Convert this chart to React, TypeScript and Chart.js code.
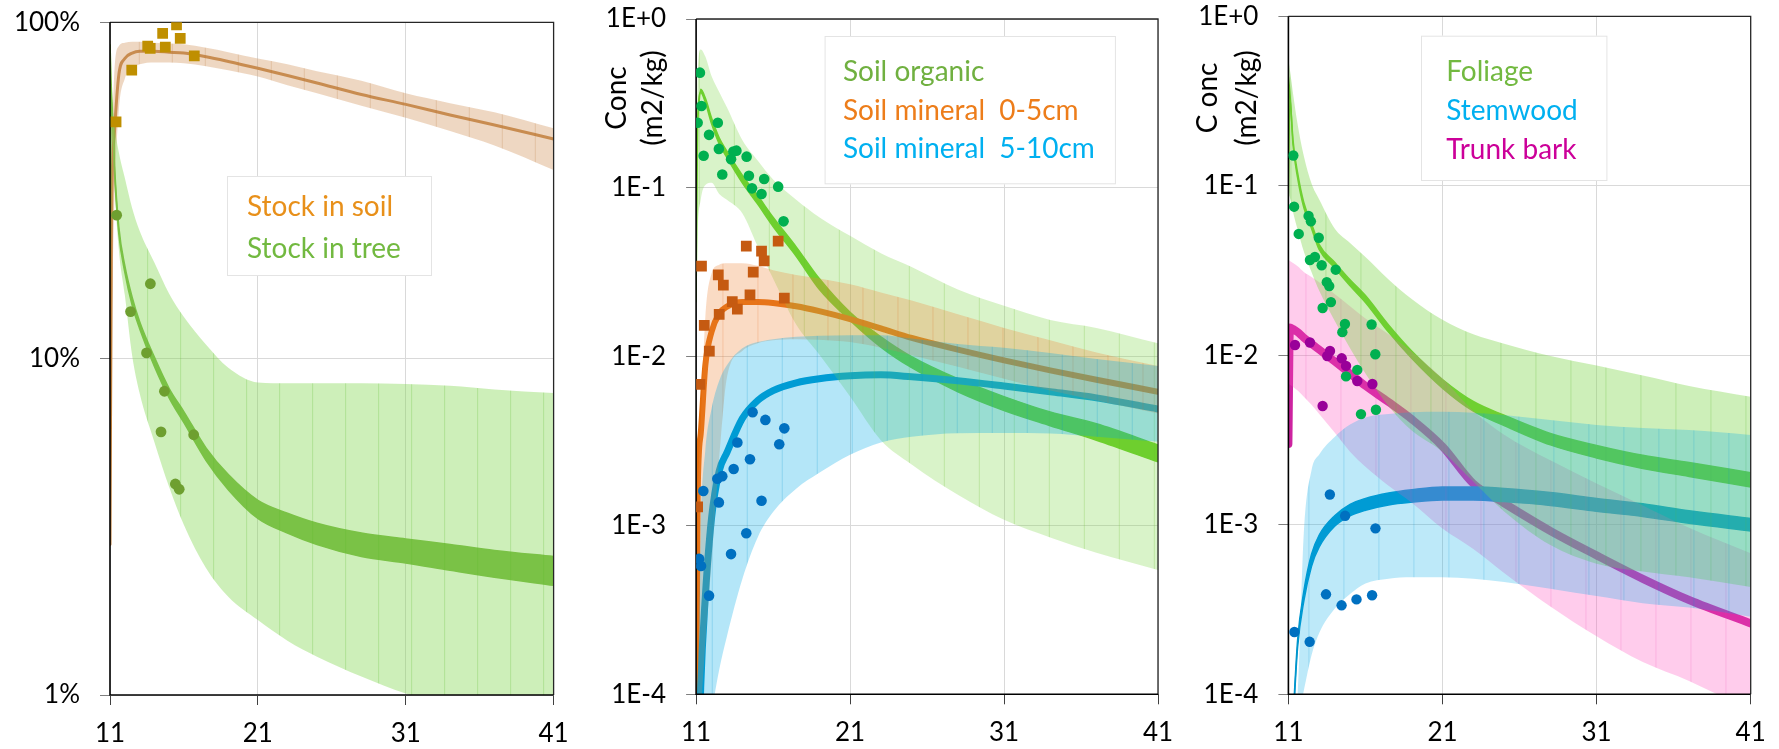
import React, { useEffect, useRef } from 'react';
import { Chart, registerables } from 'chart.js';

Chart.register(...registerables);

const FONT_FAMILY = 'Lato, "Noto Sans", "DejaVu Sans", sans-serif';

// ================= shared =================
const X_GRID = [11, 11.1, 11.3, 11.6, 12, 12.5, 13, 14, 15, 16, 17.5, 19, 21, 23, 25, 28, 31, 34, 37, 41];
const X_TICKS = [11, 21, 31, 41];

// ================= panel 1 (percent of stock) =================
const P1_Y_TICKS = [1, 10, 100];
const P1_Y_LABELS = ['1%', '10%', '100%'];

const soilStockMid = [2.8, 25, 47, 70, 78, 81, 82, 82, 81.5, 81, 79, 76.5, 73, 69.5, 66, 61, 57, 53, 49.5, 45];
const soilStockLo = [null, 12, 30, 55, 68, 73, 75, 76, 76, 75.5, 74, 72, 69, 65, 61.5, 56.5, 52, 47.5, 43, 36.4];
const soilStockHi = [null, 40, 72, 85, 87, 87.5, 87.5, 87, 86.5, 86, 84, 81.5, 78, 75, 71.5, 67, 61.5, 57.5, 54, 48.4];

const treeStockLo = [17.5, 59, 36.3, 23.5, 18.1, 14.4, 12.3, 9.5, 7.65, 6.45, 4.98, 4.08, 3.35, 3.03, 2.8, 2.58, 2.47, 2.35, 2.24, 2.12];
const treeStockHi = [86, 61, 37.7, 24.5, 18.9, 15.2, 12.9, 10.1, 8.15, 6.95, 5.42, 4.52, 3.79, 3.47, 3.24, 3.03, 2.91, 2.8, 2.69, 2.58];
const treeBandLo = [null, 55, 33, 21, 15.5, 10.2, 7.9, 5.65, 4.15, 3.2, 2.38, 1.96, 1.67, 1.45, 1.3, 1.135, 1.01, 0.93, 0.88, 0.85];
const treeBandHi = [null, 66, 50, 41, 34.5, 28, 24, 19.3, 15.6, 13.3, 11, 9.4, 8.5, 8.45, 8.45, 8.45, 8.4, 8.3, 8.1, 7.9];

const soilObsX = [11.41, 12.47, 13.55, 13.72, 14.56, 14.74, 15.5, 15.75, 16.7];
const soilObsY = [50.6, 72.1, 85, 83.7, 92.7, 84.3, 98.2, 89.6, 79.4];
const treeObsX = [11.45, 13.73, 12.39, 13.47, 14.68, 14.45, 16.66, 15.42, 15.68];
const treeObsY = [26.7, 16.7, 13.8, 10.4, 8.0, 6.06, 5.94, 4.24, 4.09];

// ================= panel 2 (soil, m2/kg) =================
const CONC_TICKS = [1e-4, 1e-3, 1e-2, 1e-1, 1];
const CONC_LABELS = ['1E-4', '1E-3', '1E-2', '1E-1', '1E+0'];

const organicLo = [0.021, 0.245, 0.367, 0.32, 0.24, 0.182, 0.151, 0.107, 0.08, 0.059, 0.0393, 0.0251, 0.0164, 0.0114, 0.0086, 0.0062, 0.0048, 0.0039, 0.0032, 0.00238];
const organicHi = [0.23, 0.255, 0.383, 0.34, 0.26, 0.198, 0.165, 0.119, 0.09, 0.067, 0.0447, 0.029, 0.0183, 0.0131, 0.01, 0.0074, 0.0058, 0.0047, 0.004, 0.003];
const organicBandLo = [0.021, 0.054, 0.085, 0.104, 0.107, 0.092, 0.085, 0.0707, 0.045, 0.029, 0.0155, 0.0103, 0.0058, 0.0032, 0.0023, 0.00152, 0.00108, 0.00085, 0.00069, 0.000545];
const organicBandHi = [0.03, 0.45, 0.66, 0.6, 0.46, 0.37, 0.3, 0.192, 0.145, 0.112, 0.085, 0.067, 0.052, 0.041, 0.034, 0.025, 0.02, 0.0165, 0.0148, 0.012];

const min05Mid = [5e-5, 0.0015, 0.0035, 0.0089, 0.014, 0.018, 0.0198, 0.0211, 0.0211, 0.0208, 0.0199, 0.0186, 0.0167, 0.0147, 0.0129, 0.011, 0.0095, 0.0083, 0.0073, 0.0062];
const min05Lo = [null, 5e-5, 8e-5, 0.0002, 0.0006, 0.0025, 0.0075, 0.0108, 0.012, 0.0125, 0.0127, 0.0126, 0.0122, 0.0113, 0.0102, 0.0087, 0.0074, 0.0063, 0.0055, 0.0046];
const min05Hi = [null, 0.0016, 0.004, 0.0172, 0.031, 0.035, 0.0357, 0.0357, 0.0345, 0.0325, 0.0305, 0.029, 0.0268, 0.024, 0.0215, 0.0178, 0.0148, 0.0125, 0.0106, 0.0088];

const min510Mid = [null, 2e-5, 0.00011, 0.00038, 0.0011, 0.0021, 0.0027, 0.0043, 0.0055, 0.0063, 0.007, 0.0074, 0.0077, 0.0078, 0.0076, 0.0072, 0.0067, 0.0062, 0.0057, 0.0049];
const min510Lo = [null, 5e-5, 5e-5, 6e-5, 8e-5, 1.4e-4, 2.2e-4, 4.8e-4, 8.5e-4, 1.2e-3, 1.65e-3, 2.05e-3, 2.62e-3, 3.1e-3, 3.35e-3, 3.52e-3, 3.53e-3, 3.5e-3, 3.35e-3, 3.13e-3];
const min510Hi = [null, 6e-5, 0.0009, 0.0028, 0.0049, 0.0072, 0.0089, 0.0112, 0.0122, 0.0127, 0.0131, 0.0133, 0.0134, 0.0134, 0.0128, 0.0119, 0.0113, 0.0105, 0.0097, 0.0088];

const organicObsX = [11.25, 11.35, 11.1, 12.41, 11.84, 11.49, 12.48, 13.42, 13.62, 13.27, 14.28, 12.7, 14.43, 15.42, 14.63, 15.25, 16.33, 16.68];
const organicObsY = [0.481, 0.305, 0.243, 0.243, 0.206, 0.155, 0.17, 0.164, 0.166, 0.1476, 0.153, 0.12, 0.118, 0.1128, 0.0993, 0.0919, 0.1016, 0.0633];
const min05ObsX = [11.35, 14.26, 15.25, 15.42, 16.33, 12.44, 12.77, 14.71, 14.5, 13.35, 13.68, 16.73, 12.5, 11.53, 11.86, 11.25, 11.1];
const min05ObsY = [0.0344, 0.0452, 0.0422, 0.0369, 0.0484, 0.0305, 0.0265, 0.0317, 0.0232, 0.0212, 0.0191, 0.0222, 0.0178, 0.0153, 0.0108, 0.00686, 0.00129];
const min510ObsX = [14.67, 15.5, 16.73, 13.68, 16.4, 14.5, 13.44, 12.7, 12.38, 11.47, 12.48, 15.25, 14.26, 13.27, 11.2, 11.32, 11.84];
const min510ObsY = [0.00468, 0.00422, 0.00376, 0.0031, 0.00303, 0.00247, 0.00216, 0.00196, 0.00189, 0.0016, 0.00137, 0.0014, 0.0009, 0.000677, 0.000634, 0.000575, 0.000384];

// ================= panel 3 (tree, m2/kg) =================
const foliageLo = [0.09, 0.33, 0.174, 0.111, 0.0743, 0.056, 0.042, 0.0328, 0.0257, 0.0205, 0.0137, 0.0096, 0.0064, 0.00468, 0.00385, 0.00296, 0.00248, 0.00215, 0.00193, 0.00167];
const foliageHi = [0.44, 0.35, 0.186, 0.119, 0.0797, 0.06, 0.045, 0.0354, 0.0279, 0.0225, 0.0151, 0.0106, 0.0072, 0.00534, 0.00443, 0.00346, 0.00294, 0.00257, 0.00233, 0.00203];
const foliageBandLo = [0.09, 0.085, 0.07, 0.055, 0.041, 0.031, 0.024, 0.016, 0.011, 0.0078, 0.005, 0.0036, 0.0027, 0.0018, 0.0012, 0.00076, 0.00059, 0.00053, 0.00049, 0.00043];
const foliageBandHi = [0.56, 0.48, 0.35, 0.23, 0.15, 0.103, 0.083, 0.056, 0.046, 0.038, 0.028, 0.0215, 0.0162, 0.0133, 0.0117, 0.0099, 0.0087, 0.0076, 0.0066, 0.0057];

const stemLo = [null, null, 6.8e-5, 0.00019, 0.000355, 0.00057, 0.00074, 0.00098, 0.00113, 0.00122, 0.00131, 0.00136, 0.0014, 0.0014, 0.00137, 0.0013, 0.0012, 0.00112, 0.00102, 0.00092];
const stemHi = [null, null, 7.2e-5, 0.00021, 0.000405, 0.00067, 0.00087, 0.00113, 0.00132, 0.00143, 0.00154, 0.00161, 0.00167, 0.00167, 0.00164, 0.00155, 0.00143, 0.00133, 0.00121, 0.00109];
const stemBandLo = [null, null, 5e-5, 7e-5, 1.05e-4, 1.7e-4, 2.3e-4, 3.2e-4, 3.9e-4, 4.5e-4, 4.8e-4, 4.9e-4, 4.9e-4, 4.8e-4, 4.6e-4, 4.2e-4, 3.8e-4, 3.45e-4, 3.25e-4, 2.87e-4];
const stemBandHi = [null, null, 5.5e-5, 1e-4, 0.0009, 0.0021, 0.0026, 0.0033, 0.0039, 0.0043, 0.0045, 0.00462, 0.00465, 0.00458, 0.00444, 0.00415, 0.00388, 0.00372, 0.00362, 0.00339];

const barkMid = [0.003, 0.0146, 0.0143, 0.0137, 0.0127, 0.0117, 0.0108, 0.0092, 0.0078, 0.0066, 0.0053, 0.0042, 0.0029, 0.00175, 0.00134, 0.00092, 0.00066, 0.00048, 0.00036, 0.000262];
const barkBandLo = [0.0068, 0.0067, 0.0065, 0.0062, 0.0057, 0.0051, 0.0045, 0.0035, 0.0027, 0.0022, 0.0017, 0.00135, 0.00095, 0.00072, 0.00052, 0.00033, 0.00022, 0.000155, 0.00012, 0.00008];
const barkBandHi = [0.0365, 0.036, 0.035, 0.0335, 0.031, 0.029, 0.027, 0.023, 0.0195, 0.0165, 0.0133, 0.0105, 0.0073, 0.0047, 0.0034, 0.0024, 0.00175, 0.0013, 0.00096, 0.00068];

const foliageObsX = [11.32, 11.37, 11.67, 12.31, 12.46, 12.97, 12.4, 12.72, 13.16, 14.07, 13.49, 13.65, 13.76, 13.22, 14.67, 14.5, 16.4, 16.64, 15.47, 14.74, 15.71, 16.68];
const foliageObsY = [0.151, 0.0753, 0.052, 0.0664, 0.0617, 0.0494, 0.0365, 0.038, 0.034, 0.032, 0.027, 0.0256, 0.0206, 0.019, 0.0153, 0.0137, 0.0152, 0.01014, 0.0082, 0.00751, 0.0045, 0.00477];
const barkObsX = [11.43, 12.4, 13.7, 13.52, 14.46, 14.74, 15.47, 16.45, 13.22];
const barkObsY = [0.0115, 0.0119, 0.0106, 0.0099, 0.0096, 0.00866, 0.00705, 0.00677, 0.00502];
const stemObsX = [13.69, 14.68, 16.65, 13.44, 14.45, 15.42, 16.43, 11.39, 12.38];
const stemObsY = [0.00151, 0.00113, 0.000953, 0.000389, 0.000335, 0.000363, 0.000384, 0.000233, 0.000204];

// ================= helpers =================
type Num = number | null;
type Paint = string | CanvasPattern;

function toPoints(xs: number[], ys: Num[]) {
  const out: { x: number; y: number }[] = [];
  for (let i = 0; i < xs.length; i++) {
    const y = ys[i];
    if (y !== null && y !== undefined) out.push({ x: xs[i], y });
  }
  return out;
}

// faint vertical stripes inside the uncertainty bands (Excel area-chart look)
function stripes(fill: string, stripe: string, period: number, phase: number): Paint {
  const c = document.createElement('canvas');
  c.width = period;
  c.height = 4;
  const g = c.getContext('2d');
  if (!g) return fill;
  g.fillStyle = fill;
  g.fillRect(0, 0, period, 4);
  g.clearRect(0, 0, 1, 4);
  g.fillStyle = stripe;
  g.fillRect(0, 0, 1, 4);
  const p = g.createPattern(c, 'repeat');
  if (!p) return fill;
  try {
    p.setTransform(new DOMMatrix([1, 0, 0, 1, phase, 0]));
  } catch (e) {
    /* ignore */
  }
  return p;
}

function lineDs(ys: Num[], color: string, width: number, order: number) {
  return {
    data: toPoints(X_GRID, ys),
    borderColor: color,
    borderWidth: width,
    pointRadius: 0,
    fill: false,
    order,
    cubicInterpolationMode: 'monotone',
    borderCapStyle: 'round',
    borderJoinStyle: 'round',
  };
}

function bandDs(lo: Num[], hi: Num[], fill: Paint, order: number, edgeColor?: string, edgeWidth = 0) {
  const edge = edgeColor && edgeWidth > 0 ? edgeColor : 'rgba(0,0,0,0)';
  return [
    {
      data: toPoints(X_GRID, lo),
      borderColor: edge,
      borderWidth: edgeWidth,
      pointRadius: 0,
      fill: false,
      order,
      cubicInterpolationMode: 'monotone',
    },
    {
      data: toPoints(X_GRID, hi),
      borderColor: edge,
      borderWidth: edgeWidth,
      pointRadius: 0,
      fill: '-1',
      backgroundColor: fill,
      order,
      cubicInterpolationMode: 'monotone',
    },
  ];
}

function pointDs(xs: number[], ys: number[], color: string, style: string, radius: number, order: number) {
  return {
    data: toPoints(xs, ys),
    showLine: false,
    pointStyle: style,
    pointRadius: radius,
    pointBackgroundColor: color,
    pointBorderColor: color,
    pointBorderWidth: 0,
    fill: false,
    order,
  };
}

interface OverlayCfg {
  legendBox: [number, number, number, number];
  legendX: number;
  legendBaselines: number[];
  legendItems: { text: string; color: string }[];
  titles: { text: string; x: number; y: number }[];
}

function drawFrame(chart: any) {
  const { left, right, top, bottom } = chart.chartArea;
  const ctx = chart.ctx;
  ctx.save();
  ctx.strokeStyle = '#262626';
  ctx.lineWidth = 1.3;
  ctx.beginPath();
  ctx.moveTo(left, top);
  ctx.lineTo(right, top);
  ctx.lineTo(right, bottom);
  ctx.stroke();
  ctx.strokeStyle = '#000';
  ctx.lineWidth = 1.6;
  ctx.beginPath();
  ctx.moveTo(left, top);
  ctx.lineTo(left, bottom);
  ctx.lineTo(right, bottom);
  ctx.stroke();
  ctx.restore();
}

function makeOverlay(cfg: OverlayCfg) {
  return {
    id: 'overlay',
    beforeDatasetsDraw(chart: any) {
      chart.$frameDone = false;
    },
    beforeDatasetDraw(chart: any, args: any) {
      if (!chart.$frameDone && args.meta.order < 10) {
        drawFrame(chart);
        chart.$frameDone = true;
      }
    },
    afterDatasetsDraw(chart: any) {
      if (!chart.$frameDone) {
        drawFrame(chart);
        chart.$frameDone = true;
      }
    },
    afterDraw(chart: any) {
      const ctx = chart.ctx;
      ctx.save();
      const [bx, by, bw, bh] = cfg.legendBox;
      ctx.fillStyle = '#ffffff';
      ctx.fillRect(bx, by, bw, bh);
      ctx.strokeStyle = '#e4e4e4';
      ctx.lineWidth = 1;
      ctx.strokeRect(bx + 0.5, by + 0.5, bw - 1, bh - 1);
      ctx.font = `28px ${FONT_FAMILY}`;
      ctx.textAlign = 'left';
      ctx.textBaseline = 'alphabetic';
      cfg.legendItems.forEach((it, i) => {
        ctx.fillStyle = it.color;
        ctx.fillText(it.text, cfg.legendX, cfg.legendBaselines[i]);
      });
      ctx.fillStyle = '#000';
      ctx.font = `28px ${FONT_FAMILY}`;
      ctx.textAlign = 'center';
      ctx.textBaseline = 'alphabetic';
      cfg.titles.forEach((t) => {
        ctx.save();
        ctx.translate(t.x, t.y);
        ctx.rotate(-Math.PI / 2);
        ctx.fillText(t.text, 0, 0);
        ctx.restore();
      });
      ctx.restore();
    },
  };
}

function labelFor(values: number[], labels: string[], v: number) {
  let best = 0;
  let bd = Infinity;
  values.forEach((t, i) => {
    const d = Math.abs(Math.log10(t) - Math.log10(v));
    if (d < bd) {
      bd = d;
      best = i;
    }
  });
  return labels[best];
}

interface PanelLayout {
  yWidth: number;
  xHeight: number;
  padRight: number;
  padTop: number;
}

function buildConfig(
  datasets: any[],
  yMin: number,
  yMax: number,
  yTicks: number[],
  yLabels: string[],
  layout: PanelLayout,
  overlay: OverlayCfg
) {
  const tickFont = { family: FONT_FAMILY, size: 26 };
  return {
    type: 'line',
    data: { datasets },
    options: {
      animation: false,
      responsive: false,
      devicePixelRatio: 1,
      events: [],
      layout: { autoPadding: false, padding: { left: 0, right: layout.padRight, top: layout.padTop, bottom: 0 } },
      plugins: {
        legend: { display: false },
        tooltip: { enabled: false },
        title: { display: false },
      },
      scales: {
        x: {
          type: 'linear',
          min: 11,
          max: 41,
          afterBuildTicks: (s: any) => {
            s.ticks = X_TICKS.map((v) => ({ value: v }));
          },
          afterFit: (s: any) => {
            s.height = layout.xHeight;
            s.paddingLeft = 0;
            s.paddingRight = 0;
            s.paddingTop = 0;
            s.paddingBottom = 0;
          },
          ticks: {
            font: tickFont,
            color: '#000',
            padding: 13,
            maxRotation: 0,
            autoSkip: false,
            callback: (v: any) => String(v),
          },
          grid: { color: '#d9d9d9', lineWidth: 1, tickLength: 10, tickColor: '#404040', drawTicks: true },
          border: { display: false },
        },
        y: {
          type: 'logarithmic',
          min: yMin,
          max: yMax,
          afterBuildTicks: (s: any) => {
            s.ticks = yTicks.map((v) => ({ value: v }));
          },
          afterFit: (s: any) => {
            s.width = layout.yWidth;
            s.paddingLeft = 0;
            s.paddingRight = 0;
            s.paddingTop = 0;
            s.paddingBottom = 0;
          },
          ticks: {
            font: tickFont,
            color: '#000',
            padding: 20,
            autoSkip: false,
            callback: (v: any) => labelFor(yTicks, yLabels, Number(v)),
          },
          grid: { color: '#d9d9d9', lineWidth: 1, tickLength: 10, tickColor: '#7f7f7f', drawTicks: true },
          border: { display: false },
        },
      },
    },
    plugins: [makeOverlay(overlay)],
  };
}

// ================= panel definitions =================
function panel1() {
  const ds = [
    lineDs(soilStockMid, 'rgb(190,126,59)', 3, 50),
    ...bandDs(treeStockLo, treeStockHi, 'rgb(120,181,67)', 48, 'rgb(120,181,67)', 1.6),
    ...bandDs(soilStockLo, soilStockHi, stripes('rgba(214,160,110,0.42)', 'rgba(200,140,85,0.55)', 33, 138.8), 30),
    ...bandDs(treeBandLo, treeBandHi, stripes('rgba(125,215,75,0.39)', 'rgba(110,200,60,0.55)', 33, 114.1), 29),
    pointDs(soilObsX, soilObsY, '#BF8F00', 'rect', 7.6, 2),
    pointDs(treeObsX, treeObsY, '#6E9F30', 'circle', 5.4, 1),
  ];
  return buildConfig(ds, 1, 100, P1_Y_TICKS, P1_Y_LABELS, { yWidth: 110, xHeight: 54, padRight: 36.4, padTop: 22.3 }, {
    legendBox: [227, 176, 205, 100],
    legendX: 247,
    legendBaselines: [216, 258],
    legendItems: [
      { text: 'Stock in soil', color: '#E8901A' },
      { text: 'Stock in tree', color: '#72B940' },
    ],
    titles: [],
  });
}

function panel2() {
  const ds = [
    ...bandDs(organicLo, organicHi, 'rgb(102,204,34)', 62, 'rgb(102,204,34)', 1.5),
    lineDs(min05Mid, 'rgb(228,108,10)', 6, 61),
    lineDs(min510Mid, 'rgb(0,150,205)', 7, 60),
    ...bandDs(organicBandLo, organicBandHi, stripes('rgba(130,215,75,0.30)', 'rgba(115,200,60,0.48)', 35, 108.8), 42),
    ...bandDs(min05Lo, min05Hi, stripes('rgba(237,135,60,0.30)', 'rgba(230,120,45,0.45)', 35, 132.4), 41),
    ...bandDs(min510Lo, min510Hi, stripes('rgba(0,170,230,0.295)', 'rgba(0,160,220,0.45)', 35, 121.7), 40),
    pointDs(organicObsX, organicObsY, '#00B050', 'circle', 5.3, 3),
    pointDs(min05ObsX, min05ObsY, '#C55A11', 'rect', 7.6, 2),
    pointDs(min510ObsX, min510ObsY, '#0070C0', 'circle', 5.3, 1),
  ];
  return buildConfig(ds, 1e-4, 1, CONC_TICKS, CONC_LABELS, { yWidth: 106.1, xHeight: 54.7, padRight: 22, padTop: 19 }, {
    legendBox: [234.6, 36, 291.3, 148.3],
    legendX: 252.9,
    legendBaselines: [81, 119.5, 158],
    legendItems: [
      { text: 'Soil organic', color: '#70B040' },
      { text: 'Soil mineral  0-5cm', color: '#ED7D1A' },
      { text: 'Soil mineral  5-10cm', color: '#00B0F0' },
    ],
    titles: [
      { text: 'Conc', x: 36, y: 98 },
      { text: '(m2/kg)', x: 72.3, y: 98 },
    ],
  });
}

function panel3() {
  const ds = [
    lineDs(barkMid, 'rgb(205,35,160)', 8, 62),
    ...bandDs(foliageLo, foliageHi, 'rgb(102,204,34)', 61, 'rgb(102,204,34)', 1.5),
    ...bandDs(stemLo, stemHi, 'rgb(0,150,205)', 60, 'rgb(0,150,205)', 1.5),
    ...bandDs(barkBandLo, barkBandHi, stripes('rgba(255,80,190,0.29)', 'rgba(245,70,180,0.42)', 35, 125.4), 42),
    ...bandDs(foliageBandLo, foliageBandHi, stripes('rgba(125,215,75,0.39)', 'rgba(110,200,60,0.55)', 35, 110.4), 41),
    ...bandDs(stemBandLo, stemBandHi, stripes('rgba(0,170,230,0.26)', 'rgba(0,160,220,0.42)', 35, 128.4), 40),
    pointDs(foliageObsX, foliageObsY, '#00B050', 'circle', 5.2, 3),
    pointDs(barkObsX, barkObsY, '#990099', 'circle', 5.2, 2),
    pointDs(stemObsX, stemObsY, '#0070C0', 'circle', 5.2, 1),
  ];
  return buildConfig(ds, 1e-4, 1, CONC_TICKS, CONC_LABELS, { yWidth: 108.4, xHeight: 54.7, padRight: 28.3, padTop: 16.3 }, {
    legendBox: [241, 35.7, 186.4, 145.3],
    legendX: 266.2,
    legendBaselines: [81, 120, 159],
    legendItems: [
      { text: 'Foliage', color: '#72B940' },
      { text: 'Stemwood', color: '#00B0F0' },
      { text: 'Trunk bark', color: '#CC0099' },
    ],
    titles: [
      { text: 'C onc', x: 37, y: 98 },
      { text: '(m2/kg)', x: 76, y: 98 },
    ],
  });
}

const PANELS = [
  { left: 0, width: 590, build: panel1 },
  { left: 590, width: 590, build: panel2 },
  { left: 1180, width: 599, build: panel3 },
];

export default function App() {
  const r0 = useRef<HTMLCanvasElement>(null);
  const r1 = useRef<HTMLCanvasElement>(null);
  const r2 = useRef<HTMLCanvasElement>(null);
  const refs = [r0, r1, r2];

  useEffect(() => {
    document.body.style.margin = '0';
    const charts: Chart[] = [];
    PANELS.forEach((p, i) => {
      const el = refs[i].current;
      if (el) charts.push(new Chart(el, p.build() as any));
    });
    return () => charts.forEach((c) => c.destroy());
  }, []);

  return (
    <div style={{ position: 'fixed', left: 0, top: 0, width: 1779, height: 749, background: '#ffffff', overflow: 'hidden' }}>
      {PANELS.map((p, i) => (
        <canvas
          key={i}
          ref={refs[i]}
          width={p.width}
          height={749}
          style={{ position: 'absolute', left: p.left, top: 0, width: p.width, height: 749 }}
        />
      ))}
    </div>
  );
}
